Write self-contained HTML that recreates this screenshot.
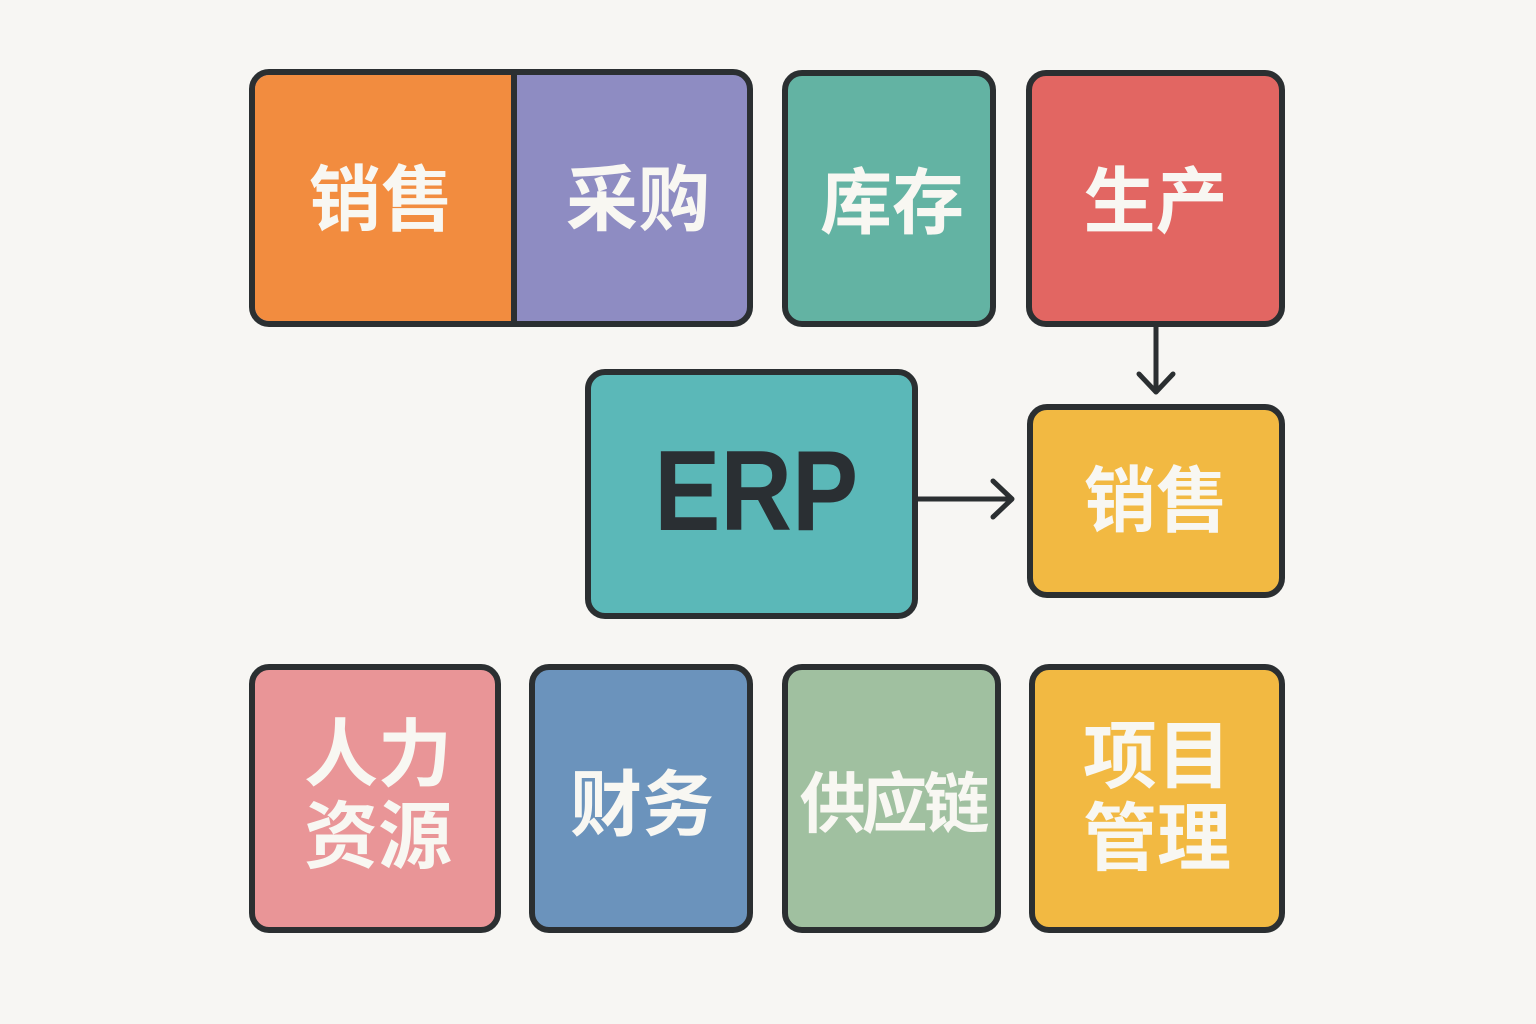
<!DOCTYPE html>
<html>
<head>
<meta charset="utf-8">
<style>
  html,body{margin:0;padding:0;}
  body{width:1536px;height:1024px;background:#f7f6f3;position:relative;overflow:hidden;
       font-family:"Liberation Sans","Noto Sans CJK SC",sans-serif;}
  .box{position:absolute;box-sizing:border-box;border:6px solid #2b2f31;border-radius:20px;
       display:flex;align-items:center;justify-content:center;overflow:hidden;}
  .lbl{color:#f8f7f2;font-family:"Noto Sans CJK SC","WenQuanYi Zen Hei",sans-serif;font-weight:700;
       font-size:72px;line-height:1;text-align:center;white-space:nowrap;}
  .two{font-size:74px;line-height:82px;}
  .half{position:absolute;top:0;bottom:0;display:flex;align-items:center;justify-content:center;}
</style>
</head>
<body>

<div class="box" style="left:249px;top:69px;width:504px;height:258px;background:#8e8cc2;">
  <div class="half" style="left:0;width:256px;background:#f28c3f;border-right:6px solid #2b2f31;">
    <div class="lbl" style="margin-top:-8px;margin-left:-4px;">销售</div>
  </div>
  <div class="half" style="left:262px;right:0;">
    <div class="lbl" style="margin-top:-8px;margin-left:12px;">采购</div>
  </div>
</div>

<div class="box" style="left:782px;top:70px;width:214px;height:257px;background:#63b3a3;">
  <div class="lbl" style="margin-top:-4px;margin-left:6px;">库存</div>
</div>

<div class="box" style="left:1026px;top:70px;width:259px;height:257px;background:#e26662;">
  <div class="lbl" style="margin-top:-6px;">生产</div>
</div>

<div class="box" style="left:585px;top:369px;width:333px;height:250px;background:#5bb8b8;">
  <div style="font-family:'Liberation Sans',sans-serif;font-weight:700;font-size:114px;color:#2a2f33;line-height:1;transform:scaleX(0.87);margin-left:10px;margin-top:-4px;">ERP</div>
</div>

<div class="box" style="left:1027px;top:404px;width:258px;height:194px;background:#f2b942;">
  <div class="lbl" style="margin-top:-12px;">销售</div>
</div>

<div class="box" style="left:249px;top:664px;width:252px;height:269px;background:#e99597;">
  <div class="lbl two" style="margin-left:6px;margin-top:-18px;">人力<br>资源</div>
</div>

<div class="box" style="left:529px;top:664px;width:224px;height:269px;background:#6b93bc;">
  <div class="lbl" style="margin-left:2px;margin-top:0px;">财务</div>
</div>

<div class="box" style="left:782px;top:664px;width:219px;height:269px;background:#a0c0a0;">
  <div class="lbl" style="font-size:66px;letter-spacing:-4px;margin-top:0px;margin-left:2px;">供应链</div>
</div>

<div class="box" style="left:1029px;top:664px;width:256px;height:269px;background:#f2b942;">
  <div class="lbl two" style="margin-top:-14px;">项目<br>管理</div>
</div>

<svg width="1536" height="1024" style="position:absolute;left:0;top:0;" xmlns="http://www.w3.org/2000/svg">
  <g stroke="#2b2f31" stroke-width="5" fill="none" stroke-linecap="round" stroke-linejoin="round">
    <line x1="1156" y1="327" x2="1156" y2="391"/>
    <polyline points="1139,374 1156,392 1173,374"/>
    <line x1="918" y1="499" x2="1011" y2="499"/>
    <polyline points="993,481 1012,499 993,517"/>
  </g>
</svg>

</body>
</html>
